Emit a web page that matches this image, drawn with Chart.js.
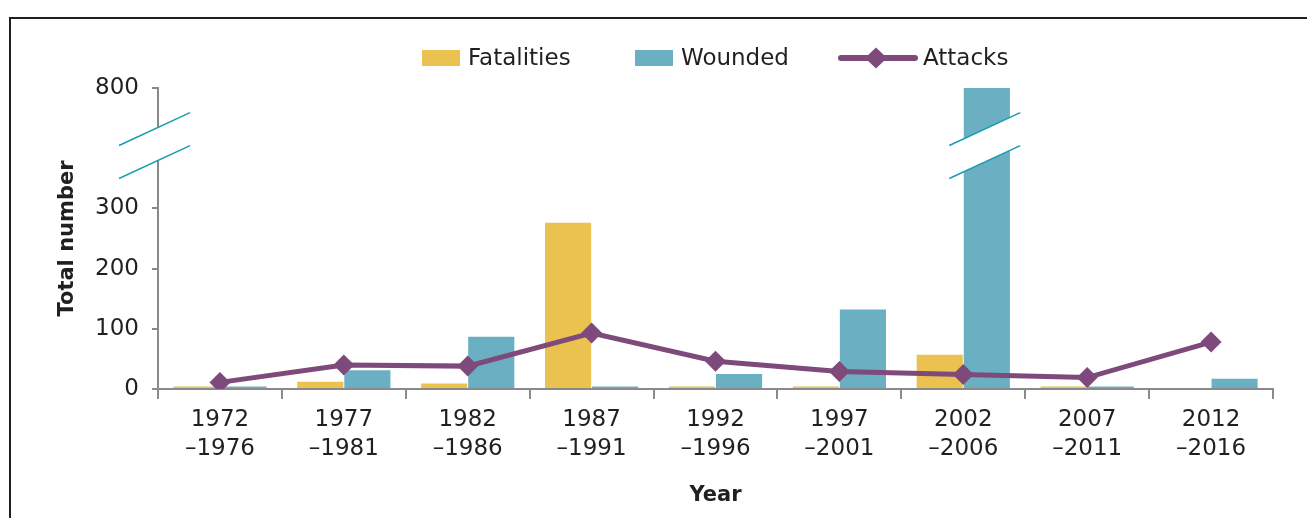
<!DOCTYPE html>
<html>
<head>
<meta charset="utf-8">
<script src="https://cdn.jsdelivr.net/npm/chart.js@4"></script>
<style>
  html, body { margin: 0; padding: 0; background: #fff; width: 1307px; height: 518px; overflow: hidden; }
  #frame { position: absolute; left: 9px; top: 17px; width: 1400px; height: 600px; border-top: 2px solid #1f1f1f; border-left: 2px solid #1f1f1f; }
  #wrap { position: absolute; left: 0; top: 0; width: 1307px; height: 518px; }
  #legend { position: absolute; top: 42px; left: 0; width: 1307px; height: 30px; font-family: "DejaVu Sans", sans-serif; font-size: 23px; color: #231f20; }
  .item { position: absolute; top: 0; height: 30px; line-height: 30px; white-space: nowrap; }
  .sw { position: absolute; top: 8px; }
  .lbl { position: absolute; top: 0px; }
</style>
</head>
<body>
<div id="frame"></div>
<div id="wrap"><canvas id="c" width="1307" height="518"></canvas></div>
<div id="legend"></div>
<script>
// ---- data ----
const categories = [["1972","\u20131976"],["1977","\u20131981"],["1982","\u20131986"],["1987","\u20131991"],["1992","\u20131996"],["1997","\u20132001"],["2002","\u20132006"],["2007","\u20132011"],["2012","\u20132016"]];
const fatalities = [4, 12, 9, 276, 4, 4, 57, 4, 0];
const wounded    = [4, 31, 87, 4, 25, 132, 800, 4, 17];
const attacks    = [11, 40, 38, 93, 46, 29, 24, 19, 78];
const yTickValues = [0, 100, 200, 300, 800];
const seriesNames = ["Fatalities", "Wounded", "Attacks"];
const colors = { fatalities: "#EBC150", wounded: "#6BAFC2", attacks: "#7E4A7B", brk: "#1A9BB3" };

// broken axis: linear up to 300, compressed above
const BREAK = 300, COMPRESS = 0.4;
const tf = v => v <= BREAK ? v : BREAK + (v - BREAK) * COMPRESS;
const tfInv = v => v <= BREAK ? v : BREAK + (v - BREAK) / COMPRESS;

const FONT = '"DejaVu Sans", sans-serif';
const TXT = "#231f20";

// break-mark plugin (two parallel slanted strokes with a white gap)
const breakPlugin = {
  id: 'breaks',
  afterDraw(chart) {
    const ctx = chart.ctx;
    const y = chart.scales.y, x = chart.scales.x;
    const yLeft = y.getPixelForValue(404.5), yRight = y.getPixelForValue(459);
    const dy = 33, w = 71;
    const drawBreak = (xl) => {
      const xr = xl + w;
      ctx.save();
      ctx.fillStyle = '#fff';
      ctx.beginPath();
      ctx.moveTo(xl, yLeft);
      ctx.lineTo(xr, yRight);
      ctx.lineTo(xr, yRight + dy);
      ctx.lineTo(xl, yLeft + dy);
      ctx.closePath();
      ctx.fill();
      ctx.strokeStyle = colors.brk;
      ctx.lineWidth = 1.5;
      ctx.beginPath();
      ctx.moveTo(xl, yLeft); ctx.lineTo(xr, yRight);
      ctx.moveTo(xl, yLeft + dy); ctx.lineTo(xr, yRight + dy);
      ctx.stroke();
      ctx.restore();
    };
    drawBreak(x.left - 39);
    drawBreak(x.getPixelForValue(6) - 14);
  }
};

const chart = new Chart(document.getElementById('c'), {
  type: 'bar',
  data: {
    labels: categories,
    datasets: [
      { type: 'line', label: seriesNames[2], data: attacks.map(tf), borderColor: colors.attacks, backgroundColor: colors.attacks,
        borderWidth: 5, pointStyle: 'rectRot', pointRadius: 10.5, pointHoverRadius: 10.5, pointBorderWidth: 0, tension: 0, order: 0 },
      { label: seriesNames[0], data: fatalities.map(tf), backgroundColor: colors.fatalities, order: 1,
        categoryPercentage: 0.76, barPercentage: 0.98 },
      { label: seriesNames[1], data: wounded.map(tf), backgroundColor: colors.wounded, order: 1,
        categoryPercentage: 0.76, barPercentage: 0.98 }
    ]
  },
  options: {
    responsive: false,
    animation: false,
    events: [],
    layout: { padding: { top: 88, left: 0, right: 34, bottom: 0 } },
    plugins: { legend: { display: false }, tooltip: { enabled: false } },
    scales: {
      x: {
        offset: true,
        afterFit(s) { s.height = 129; },
        grid: { display: true, drawOnChartArea: false, offset: true, color: '#8a8a8a', lineWidth: 2, tickLength: 10 },
        border: { display: true, color: '#8a8a8a', width: 2 },
        ticks: { color: TXT, font: { family: FONT, size: 23, lineHeight: 1.26 }, padding: 7, maxRotation: 0, autoSkip: false },
        title: { display: true, text: 'Year', color: TXT, font: { family: FONT, size: 21, weight: 'bold' }, padding: { top: 4, bottom: 10 } }
      },
      y: {
        min: 0, max: tf(800),
        afterBuildTicks(s) { s.ticks = yTickValues.map(v => ({ value: tf(v) })); },
        afterFit(s) { s.width = 158; },
        grid: { display: true, drawOnChartArea: false, color: '#8a8a8a', lineWidth: 2, tickLength: 6 },
        border: { display: true, color: '#8a8a8a', width: 2 },
        ticks: { color: TXT, font: { family: FONT, size: 23 }, padding: 13,
          callback: v => String(Math.round(tfInv(v))) },
        title: { display: true, text: 'Total number', color: TXT, font: { family: FONT, size: 21, weight: 'bold' }, padding: { top: 55, bottom: 0 } }
      }
    }
  },
  plugins: [breakPlugin]
});

// HTML legend
const legend = document.getElementById('legend');
const items = [
  { name: seriesNames[0], color: colors.fatalities, left: 422, kind: 'box' },
  { name: seriesNames[1], color: colors.wounded, left: 635, kind: 'box' },
  { name: seriesNames[2], color: colors.attacks, left: 838, kind: 'line' }
];
items.forEach(it => {
  const d = document.createElement('div');
  d.className = 'item';
  d.style.left = it.left + 'px';
  if (it.kind === 'box') {
    d.innerHTML = '<span class="sw" style="left:0;width:38px;height:16px;background:' + it.color + '"></span>' +
      '<span class="lbl" style="left:46px">' + it.name + '</span>';
  } else {
    d.innerHTML = '<svg class="sw" style="left:0;top:5px" width="80" height="22"><line x1="3" y1="11" x2="77" y2="11" stroke="' + it.color + '" stroke-width="6" stroke-linecap="round"/>' +
      '<polygon points="27,11 38,0.5 49,11 38,21.5" fill="' + it.color + '"/></svg>' +
      '<span class="lbl" style="left:85px">' + it.name + '</span>';
  }
  legend.appendChild(d);
});
</script>
</body>
</html>
